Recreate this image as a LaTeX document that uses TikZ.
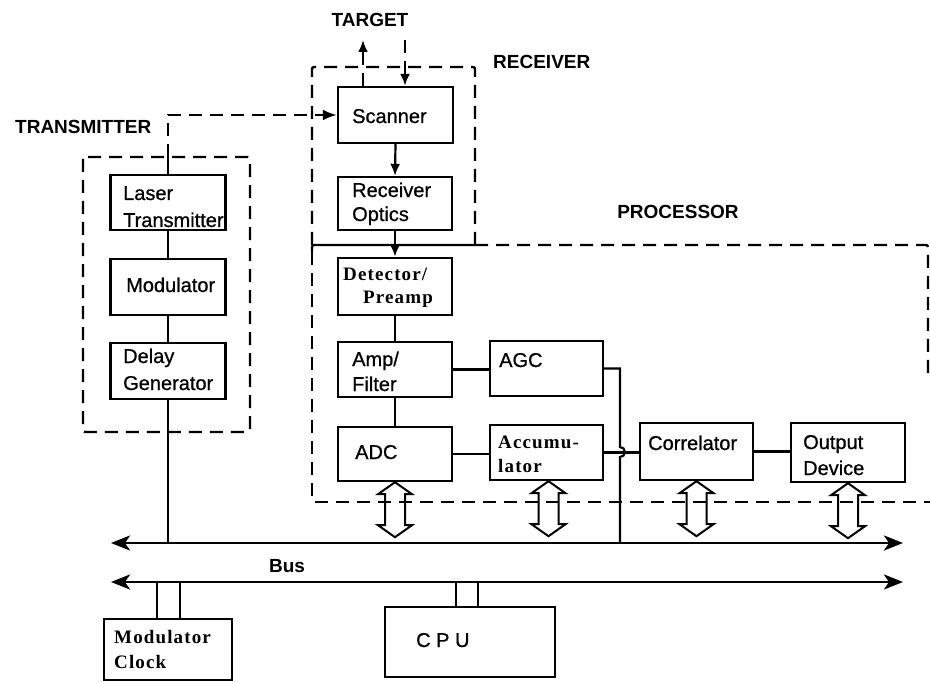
\documentclass[tikz,border=0pt]{standalone}
\usepackage{fontspec}
\setmainfont{Liberation Sans}
\newfontfamily\boxfont[FakeBold=0.8]{Liberation Sans}
\newfontfamily\tmsfont[LetterSpace=6]{Liberation Serif}
\usetikzlibrary{arrows.meta}
\tikzset{
  box/.style={draw, line width=2.4pt, inner sep=0pt},
  btxt/.style={anchor=base west, inner sep=0pt, font=\boxfont\fontsize{20}{24}\selectfont},
  ttxt/.style={anchor=base west, inner sep=0pt, font=\tmsfont\bfseries\fontsize{19}{23}\selectfont},
  lbl/.style={inner sep=0pt, font=\bfseries\fontsize{19}{23}\selectfont},
  conn/.style={line width=2.2pt},
  dsh/.style={line width=2.4pt, dash pattern=on 13pt off 8pt},
  smallarr/.style={-{Latex[length=12pt,width=10pt]}},
  busline/.style={line width=2.8pt, {Stealth[length=19pt,width=15pt,inset=5pt]}-{Stealth[length=19pt,width=15pt,inset=5pt]}},
  dblarrow/.pic={\draw[line width=2pt, line join=miter] (0,0) -- (17,12) -- (10,12) -- (10,43) -- (17,43) -- (0,55) -- (-17,43) -- (-10,43) -- (-10,12) -- (-17,12) -- cycle;}
}
\begin{document}
\begin{tikzpicture}[x=1pt,y=-1pt]
\useasboundingbox (0,0) rectangle (930,682);

% labels
\node[lbl] (target) at (370,20) {TARGET};
\node[lbl, anchor=west] (recv) at (493,62) {RECEIVER};
\node[lbl, anchor=west] (trans) at (15,127) {TRANSMITTER};
\node[lbl] (proc) at (678,212) {PROCESSOR};
\node[lbl] (buslbl) at (287,566) {Bus};

% transmitter group
\node[box, minimum width=115pt, minimum height=55pt] (laser) at (168,202.5) {};
\node[box, minimum width=115pt, minimum height=56pt] (mod) at (168,287) {};
\node[box, minimum width=115pt, minimum height=56pt] (delay) at (168,371) {};
\node[btxt] (laserT1) at (123,200) {Laser};
\node[btxt] (laserT2) at (123,227) {Transmitter};
\node[btxt] (modT) at (126,292) {Modulator};
\node[btxt] (delayT1) at (123,363) {Delay};
\node[btxt] (delayT2) at (123,390) {Generator};

% receiver group
\node[box, minimum width=115pt, minimum height=56pt] (scan) at (395.5,115) {};
\node[box, minimum width=114pt, minimum height=53pt] (optics) at (395,203.5) {};
\node[btxt] (scanT) at (352,123) {Scanner};
\node[btxt] (opticsT1) at (352,197) {Receiver};
\node[btxt] (opticsT2) at (352,221) {Optics};

% processor group
\node[box, minimum width=114pt, minimum height=57pt] (det) at (395,286.5) {};
\node[box, minimum width=114pt, minimum height=55pt] (amp) at (395,369.5) {};
\node[box, minimum width=114pt, minimum height=54pt] (adc) at (395,454) {};
\node[box, minimum width=113pt, minimum height=55pt] (agc) at (546.5,368.5) {};
\node[box, minimum width=113pt, minimum height=55pt] (acc) at (546.5,452.5) {};
\node[box, minimum width=113pt, minimum height=57pt] (corr) at (696.5,451.5) {};
\node[box, minimum width=114pt, minimum height=59pt] (out) at (848,452.5) {};
\node[ttxt] (detT1) at (343,280) {Detector/};
\node[ttxt] (detT2) at (363,303) {Preamp};
\node[btxt] (ampT1) at (352,366) {Amp/};
\node[btxt] (ampT2) at (352,391) {Filter};
\node[btxt] (agcT) at (499,367) {AGC};
\node[btxt] (adcT) at (355,459) {ADC};
\node[ttxt] (accT1) at (498,448) {Accumu-};
\node[ttxt] (accT2) at (498,472) {lator};
\node[btxt] (corrT) at (648,450) {Correlator};
\node[btxt] (outT1) at (803,449) {Output};
\node[btxt] (outT2) at (803,475) {Device};

% bottom boxes
\node[box, minimum width=128pt, minimum height=61pt] (mclk) at (168,649.5) {};
\node[box, minimum width=170pt, minimum height=70pt] (cpu) at (470,642) {};
\node[ttxt] (mclkT1) at (114,643) {Modulator};
\node[ttxt] (mclkT2) at (114,668) {Clock};
\node[btxt] (cpuT) at (416,647) {C P U};

% dashed group outlines
\draw[dsh, rounded corners=2pt] (83,157) rectangle (250,432);
\draw[dsh, rounded corners=2pt] (475,245) -- (475,67) -- (312,67) -- (312,245);
\draw[conn, rounded corners=2pt] (475,245) -- (312,245) -- (312,252);
\draw[dsh, rounded corners=2pt] (312,252) -- (312,502) -- (930,502);
\draw[dsh, rounded corners=2pt] (475,245) -- (928,245) -- (928,378);

% coordinates
\coordinate (b1l) at (111,543);
\coordinate (b1r) at (903,543);
\coordinate (b2l) at (111,582);
\coordinate (b2r) at (903,582);
\coordinate (tup) at (363,40);
\coordinate (tdn) at (405,40);
\coordinate (ttop) at (168,157);
\coordinate (hop) at (620,452);

% bus lines
\draw[busline] (b1l) -- (b1r);
\draw[busline] (b2l) -- (b2r);

% target arrows
\draw[dsh, -{Latex[length=12pt,width=10pt]}] (scan.north -| tup) -- (tup);
\draw[dsh, -{Latex[length=12pt,width=10pt]}] (tdn) -- (tdn |- scan.north);

% transmitter connections
\draw[conn] (laser.north) -- (ttop);
\draw[dsh, -{Latex[length=14pt,width=11pt]}] (ttop) -- (ttop |- scan.west) -- (scan.west);
\draw[conn] (laser.south) -- (mod.north);
\draw[conn] (mod.south) -- (delay.north);
\draw[conn] (delay.south) -- (delay.south |- b1l);

% receiver / processor connections
\draw[conn, smallarr] (scan.south) -- (optics.north);
\draw[conn, smallarr] (optics.south) -- (det.north);
\draw[conn] (det.south) -- (amp.north);
\draw[conn] (amp.south) -- (adc.north);
\draw[conn] (amp.east) -- (amp.east -| agc.west);
\draw[conn] (adc.east) -- (adc.east -| acc.west);
\draw[conn] (acc.east) -- (acc.east -| corr.west);
\draw[conn] (corr.east) -- (corr.east -| out.west);
\draw[conn] (agc.east) -- (agc.east -| hop) -- ([yshift=5pt]hop) arc[start angle=90, end angle=-90, radius=5pt] -- (hop |- b1l);

% hollow double arrows to bus
\pic (da1) at (adc.south) {dblarrow};
\pic (da2) at ([xshift=2pt]acc.south) {dblarrow};
\pic (da3) at (corr.south) {dblarrow};
\pic (da4) at (out.south) {dblarrow};

% bottom connections
\draw[conn] ([xshift=-11pt]mclk.north |- b2l) -- ([xshift=-11pt]mclk.north);
\draw[conn] ([xshift=12pt]mclk.north |- b2l) -- ([xshift=12pt]mclk.north);
\draw[conn] ([xshift=-14pt]cpu.north |- b2l) -- ([xshift=-14pt]cpu.north);
\draw[conn] ([xshift=8pt]cpu.north |- b2l) -- ([xshift=8pt]cpu.north);
\end{tikzpicture}
\end{document}
